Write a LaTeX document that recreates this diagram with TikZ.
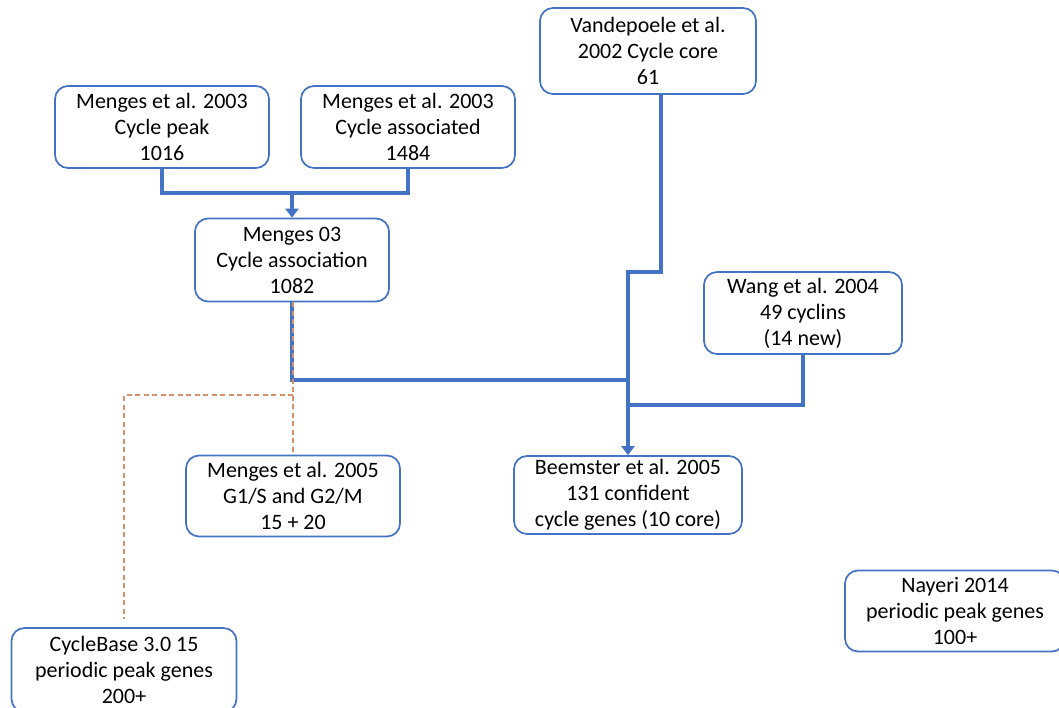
\documentclass[tikz,border=0pt]{standalone}
\usepackage{fontspec}
\setmainfont{Carlito}
\usetikzlibrary{arrows.meta, positioning, calc}
\definecolor{lineblue}{HTML}{4472C4}
\definecolor{dashorange}{HTML}{D6906A}

\begin{document}
\begin{tikzpicture}[x=1pt,y=-1pt,
  box/.style={draw=lineblue,line width=1.7pt,rounded corners=13pt,fill=white,
    align=center,inner sep=0pt,minimum height=82pt,
    font=\fontsize{22}{26}\selectfont},
  link/.style={draw=lineblue,line width=3.4pt},
  arrow/.style={link,-{Triangle[width=13pt,length=9pt]}},
  dashlink/.style={draw=dashorange,line width=1.3pt,dash pattern=on 5pt off 3.5pt}]
\useasboundingbox (0,0) rectangle (1059,708);
\clip (0,0) rectangle (1059,708);
% sources
\node[box,minimum width=214pt] (peak) at (162,127) {Menges et al. 2003\\Cycle peak\\1016};
\node[box,minimum width=214pt] (assoc) at (408,127) {Menges et al. 2003\\Cycle associated\\1484};
\node[box,minimum width=216pt,minimum height=86pt] (vand) at (648,51) {Vandepoele et al.\\2002 Cycle core\\61};
\node[box,minimum width=194pt,minimum height=83pt] (menges03) at (292,260) {Menges 03\\Cycle association\\1082};
\node[box,minimum width=198pt] (wang) at (803,313) {Wang et al. 2004\\49 cyclins\\(14 new)};
% results
\node[box,minimum width=214pt,minimum height=81pt] (menges05) at (293,496) {Menges et al. 2005\\G1/S and G2/M\\15 + 20};
\node[box,minimum width=228pt,minimum height=78pt] (beem) at (628,495) {Beemster et al. 2005\\131 confident\\cycle genes (10 core)};
\node[box,minimum width=225pt,minimum height=84pt] (cbase) at (124,670) {CycleBase 3.0 15\\periodic peak genes\\200+};
\node[box,minimum width=220pt,minimum height=81pt] (nayeri) at (955,611) {Nayeri 2014\\periodic peak genes\\100+};
% junctions
\coordinate (j1) at (292,192);
\coordinate (j2) at (628,380);
\coordinate (j3) at (628,272);
\coordinate (j4) at (628,405);
\coordinate (d1) at (293,395);
% connectors
\draw[link] (peak.south) -- ++(0,24) -| (assoc.south);
\draw[arrow] (j1) -- (menges03.north);
\draw[link] (menges03.south) |- (j2);
\draw[arrow] ([xshift=13pt]vand.south) |- (j3) -- (beem.north);
\draw[link] (wang.south) |- (j4);
\draw[dashlink] ([xshift=1pt]menges03.south) -- (d1) -- (d1 |- menges05.north);
\draw[dashlink,shorten >=8pt] (d1) -| (cbase.north);
\end{tikzpicture}
\end{document}
